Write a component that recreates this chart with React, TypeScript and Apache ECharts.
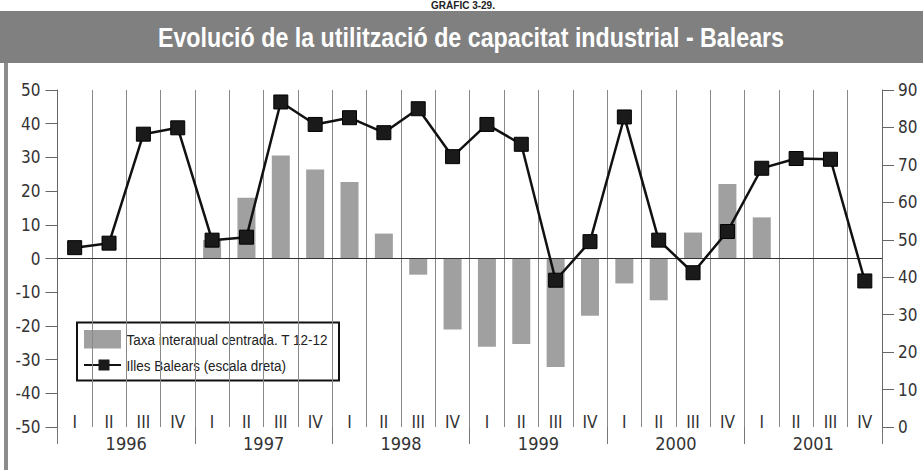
import React, { useEffect, useRef } from "react";
import * as echarts from "echarts";

const quarters = [
  "I", "II", "III", "IV", "I", "II", "III", "IV", "I", "II", "III", "IV",
  "I", "II", "III", "IV", "I", "II", "III", "IV", "I", "II", "III", "IV",
];
const years = ["1996", "1997", "1998", "1999", "2000", "2001"];
const taxaInteranual: (number | null)[] = [
  null, null, null, null,
  5.5, 18.0, 30.6, 26.4,
  22.7, 7.4, -4.8, -21.1,
  -26.2, -25.4, -32.2, -17.0,
  -7.4, -12.4, 7.7, 22.1,
  12.2, null, null, null,
];
const illesBalears = [
  47.9, 49.1, 78.2, 79.9,
  49.9, 50.7, 86.8, 80.8,
  82.6, 78.6, 85.0, 72.2,
  80.8, 75.5, 39.2, 49.5,
  82.8, 49.9, 41.2, 52.2,
  69.1, 71.7, 71.5, 39.0,
];
const headerText = "GRÀFIC 3-29.";
const titleText = "Evolució de la utilització de capacitat industrial - Balears";
const barName = "Taxa interanual centrada. T 12-12";
const lineName = "Illes Balears (escala dreta)";

const COND = "'DejaVu Sans Condensed', 'DejaVu Sans', sans-serif";
const ARIAL = "'Liberation Sans', Arial, sans-serif";

export default function App() {
  const ref = useRef<HTMLDivElement>(null);
  useEffect(() => {
    document.body.style.margin = "0";
    const chart = echarts.init(ref.current!, null, { renderer: "svg" });
    chart.setOption({
      animation: false,
      backgroundColor: "#ffffff",
      textStyle: { fontFamily: COND },
      graphic: [
        { type: "rect", left: 0, top: 11, shape: { width: 923, height: 52 }, style: { fill: "#808080" }, z: -1 },
        { type: "rect", left: 4, top: 63, shape: { width: 4, height: 407 }, style: { fill: "#8c8c8c" }, z: -1 },
        {
          type: "text",
          x: 463,
          y: 5,
          style: {
            text: headerText,
            fill: "#222",
            font: "bold 10px " + ARIAL,
            align: "center",
            verticalAlign: "middle",
          },
        },
        {
          type: "text",
          x: 471,
          y: 37,
          scaleX: 0.83,
          style: {
            text: titleText,
            fill: "#ffffff",
            font: "bold 28px " + ARIAL,
            align: "center",
            verticalAlign: "middle",
          },
        },
        {
          type: "group",
          z: 20,
          children: [
            {
              type: "rect",
              shape: { x: 77, y: 322.5, width: 262, height: 58 },
              style: { fill: "#ffffff", stroke: "#111", lineWidth: 2 },
            },
            {
              type: "rect",
              shape: { x: 84, y: 330, width: 37, height: 18.5 },
              style: { fill: "#a0a0a0" },
            },
            {
              type: "line",
              shape: { x1: 84, y1: 365, x2: 121, y2: 365 },
              style: { stroke: "#111", lineWidth: 2 },
            },
            {
              type: "rect",
              shape: { x: 98.5, y: 359.5, width: 11, height: 11 },
              style: { fill: "#1a1a1a" },
            },
            {
              type: "text",
              x: 126.5,
              y: 340,
              scaleX: 0.87,
              style: { text: barName, fill: "#222", font: "15.5px " + ARIAL, align: "left", verticalAlign: "middle" },
            },
            {
              type: "text",
              x: 126.5,
              y: 365.5,
              scaleX: 0.87,
              style: { text: lineName, fill: "#222", font: "15.5px " + ARIAL, align: "left", verticalAlign: "middle" },
            },
          ],
        },
      ],
      grid: { left: 57.5, right: 41, top: 90, bottom: 43 },
      xAxis: [
        {
          type: "category",
          data: quarters,
          position: "bottom",
          boundaryGap: true,
          axisLine: { show: false },
          axisTick: { show: false },
          splitLine: { show: true, lineStyle: { color: "#888", width: 1 } },
          axisLabel: { inside: true, margin: -3, fontSize: 17, color: "#333", interval: 0, fontFamily: COND },
        },
        {
          type: "category",
          data: years,
          position: "bottom",
          boundaryGap: true,
          axisLine: { show: false },
          axisTick: { show: true, length: 17, interval: 0, lineStyle: { color: "#777", width: 1 } },
          splitLine: { show: false },
          axisLabel: { margin: 7, fontSize: 18, color: "#333", interval: 0, fontFamily: COND },
        },
      ],
      yAxis: [
        {
          type: "value",
          min: -50,
          max: 50,
          interval: 10,
          position: "left",
          axisLine: { show: true, lineStyle: { color: "#666", width: 1 } },
          axisTick: { show: true, length: 12, lineStyle: { color: "#666" } },
          splitLine: { show: false },
          axisLabel: { margin: 17, fontSize: 17, color: "#333", fontFamily: COND },
        },
        {
          type: "value",
          min: 0,
          max: 90,
          interval: 10,
          position: "right",
          axisLine: { show: true, lineStyle: { color: "#666", width: 1 } },
          axisTick: { show: true, length: 12, lineStyle: { color: "#666" } },
          splitLine: { show: false },
          axisLabel: { margin: 16, fontSize: 17, color: "#333", fontFamily: COND },
        },
      ],
      series: [
        {
          name: barName,
          type: "bar",
          xAxisIndex: 0,
          yAxisIndex: 0,
          data: taxaInteranual,
          barWidth: 18,
          itemStyle: { color: "#a0a0a0" },
          markLine: {
            silent: true,
            symbol: ["none", "none"],
            label: { show: false },
            lineStyle: { color: "#333", width: 1, type: "solid" },
            data: [{ yAxis: 0 }],
          },
        },
        {
          name: lineName,
          type: "line",
          xAxisIndex: 0,
          yAxisIndex: 1,
          data: illesBalears,
          symbol: "rect",
          symbolSize: 14,
          lineStyle: { color: "#111", width: 2.5 },
          itemStyle: { color: "#1a1a1a", borderColor: "#000", borderWidth: 1 },
          z: 5,
        },
      ],
    });
    return () => chart.dispose();
  }, []);
  return <div ref={ref} style={{ width: 923, height: 470 }} />;
}
